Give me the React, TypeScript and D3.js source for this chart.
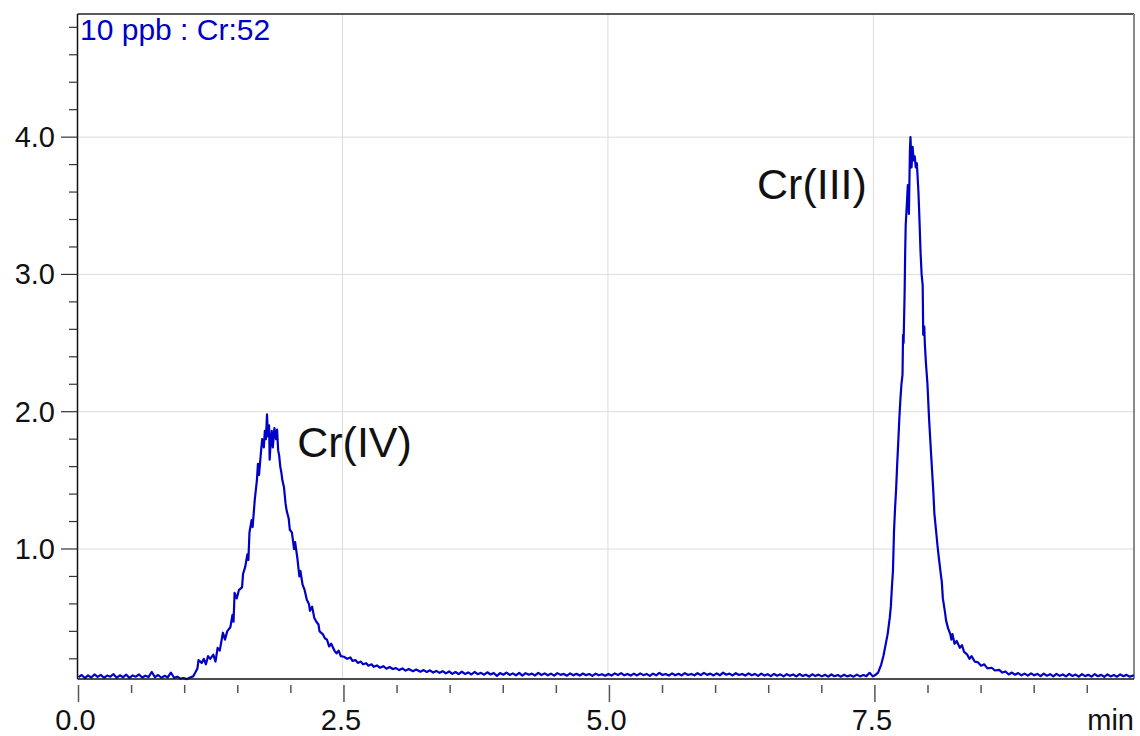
import React, { useEffect, useRef } from "react";
import * as d3 from "d3";

// chromatogram trace, [time (min), intensity]
const baselineStart: [number, number][] = [
  [0.0, 0.066], [0.03, 0.082], [0.06, 0.06], [0.09, 0.079], [0.12, 0.064], [0.15, 0.086],
  [0.18, 0.068], [0.21, 0.083], [0.24, 0.062], [0.27, 0.078], [0.3, 0.07], [0.33, 0.088],
  [0.36, 0.063], [0.39, 0.08], [0.42, 0.066], [0.45, 0.084], [0.48, 0.061], [0.51, 0.079],
  [0.54, 0.07], [0.57, 0.086], [0.6, 0.064], [0.63, 0.077], [0.66, 0.068], [0.69, 0.104],
  [0.72, 0.066], [0.75, 0.082], [0.78, 0.062], [0.81, 0.076], [0.84, 0.065], [0.87, 0.1],
  [0.9, 0.062], [0.93, 0.07], [0.96, 0.056], [0.99, 0.06], [1.02, 0.052], [1.05, 0.064],
  [1.08, 0.072],
];

const peakFour: [number, number][] = [
  [1.1, 0.1], [1.12, 0.13], [1.13, 0.19], [1.16, 0.17], [1.18, 0.2], [1.2, 0.16],
  [1.22, 0.22], [1.24, 0.2], [1.27, 0.23], [1.29, 0.18], [1.31, 0.28], [1.33, 0.26],
  [1.36, 0.39], [1.38, 0.34], [1.4, 0.4], [1.43, 0.43], [1.45, 0.52], [1.46, 0.47],
  [1.47, 0.68], [1.49, 0.64], [1.51, 0.7], [1.54, 0.72], [1.55, 0.82], [1.57, 0.87],
  [1.59, 0.96], [1.6, 0.92], [1.61, 1.12], [1.63, 1.21], [1.64, 1.16], [1.66, 1.36],
  [1.68, 1.5], [1.69, 1.62], [1.7, 1.54], [1.72, 1.72], [1.73, 1.8], [1.745, 1.74],
  [1.755, 1.86], [1.765, 1.8], [1.775, 1.98], [1.785, 1.82], [1.795, 1.9], [1.8, 1.65],
  [1.81, 1.78], [1.82, 1.86], [1.83, 1.74], [1.845, 1.88], [1.86, 1.8], [1.87, 1.87],
  [1.88, 1.72], [1.89, 1.68], [1.9, 1.6], [1.91, 1.56], [1.92, 1.5], [1.935, 1.45],
  [1.95, 1.33], [1.96, 1.28], [1.98, 1.22], [1.99, 1.14], [2.01, 1.12], [2.03, 1.0],
  [2.04, 1.05], [2.06, 0.94], [2.08, 0.8], [2.09, 0.84], [2.11, 0.74], [2.13, 0.7],
  [2.15, 0.63], [2.17, 0.6], [2.18, 0.55], [2.2, 0.58], [2.22, 0.5], [2.24, 0.47],
  [2.26, 0.45], [2.27, 0.4], [2.3, 0.38], [2.32, 0.35], [2.34, 0.34], [2.36, 0.29],
  [2.38, 0.31], [2.41, 0.26], [2.43, 0.24], [2.45, 0.26], [2.47, 0.22], [2.5, 0.215],
  [2.53, 0.2], [2.56, 0.21], [2.58, 0.185], [2.61, 0.19], [2.63, 0.17], [2.66, 0.18],
  [2.68, 0.16], [2.71, 0.168], [2.73, 0.15], [2.76, 0.16], [2.78, 0.142], [2.81, 0.152],
  [2.84, 0.135], [2.87, 0.146], [2.9, 0.128], [2.93, 0.14], [2.96, 0.126], [2.99, 0.132],
  [3.02, 0.118], [3.05, 0.13], [3.08, 0.114], [3.11, 0.126], [3.15, 0.11], [3.18, 0.122],
  [3.22, 0.106], [3.25, 0.118], [3.28, 0.104], [3.31, 0.116], [3.34, 0.1], [3.37, 0.112],
  [3.4, 0.098],
];

const baselineMiddle: [number, number][] = [
  [3.43, 0.11], [3.46, 0.094], [3.49, 0.108], [3.52, 0.09], [3.55, 0.104], [3.58, 0.088],
  [3.61, 0.106], [3.64, 0.09], [3.67, 0.101], [3.7, 0.086], [3.73, 0.104], [3.76, 0.088],
  [3.79, 0.098], [3.82, 0.084], [3.85, 0.102], [3.88, 0.086], [3.91, 0.097], [3.94, 0.076],
  [3.97, 0.096], [4.0, 0.084], [4.03, 0.1], [4.06, 0.083], [4.09, 0.094], [4.12, 0.08],
  [4.15, 0.097], [4.18, 0.078], [4.21, 0.095], [4.24, 0.084], [4.27, 0.092], [4.3, 0.079],
  [4.33, 0.098], [4.36, 0.082], [4.39, 0.094], [4.42, 0.08], [4.45, 0.092], [4.48, 0.078],
  [4.51, 0.096], [4.54, 0.083], [4.57, 0.09], [4.6, 0.077], [4.63, 0.094], [4.66, 0.08],
  [4.69, 0.091], [4.72, 0.078], [4.75, 0.093], [4.78, 0.081], [4.81, 0.089], [4.84, 0.076],
  [4.87, 0.092], [4.9, 0.08], [4.93, 0.088], [4.96, 0.077], [4.99, 0.09], [5.02, 0.078],
  [5.05, 0.094], [5.08, 0.082], [5.11, 0.096], [5.14, 0.08], [5.17, 0.09], [5.2, 0.078],
  [5.23, 0.092], [5.26, 0.079], [5.29, 0.094], [5.32, 0.081], [5.35, 0.09], [5.38, 0.076],
  [5.41, 0.092], [5.44, 0.08], [5.47, 0.098], [5.5, 0.082], [5.53, 0.09], [5.56, 0.078],
  [5.59, 0.094], [5.62, 0.08], [5.65, 0.091], [5.68, 0.079], [5.71, 0.096], [5.74, 0.082],
  [5.77, 0.09], [5.8, 0.08], [5.83, 0.095], [5.86, 0.081], [5.89, 0.098], [5.92, 0.083],
  [5.95, 0.092], [5.98, 0.079], [6.01, 0.094], [6.04, 0.08], [6.07, 0.1], [6.1, 0.084],
  [6.13, 0.092], [6.16, 0.079], [6.19, 0.095], [6.22, 0.082], [6.25, 0.09], [6.28, 0.078],
  [6.31, 0.094], [6.34, 0.08], [6.37, 0.09], [6.4, 0.076], [6.43, 0.092], [6.46, 0.078],
  [6.49, 0.088], [6.52, 0.074], [6.55, 0.09], [6.58, 0.077], [6.61, 0.087], [6.64, 0.072],
  [6.67, 0.088], [6.7, 0.076], [6.73, 0.086], [6.76, 0.072], [6.79, 0.089], [6.82, 0.075],
  [6.85, 0.084], [6.88, 0.071], [6.91, 0.087], [6.94, 0.074], [6.97, 0.085], [7.0, 0.072],
  [7.03, 0.084], [7.06, 0.07], [7.09, 0.086], [7.12, 0.073], [7.15, 0.082], [7.18, 0.07],
  [7.21, 0.084], [7.24, 0.072], [7.27, 0.081], [7.3, 0.07], [7.33, 0.085], [7.36, 0.072],
  [7.39, 0.082], [7.42, 0.074], [7.45, 0.098], [7.48, 0.072],
];

const peakThree: [number, number][] = [
  [7.5, 0.08], [7.53, 0.1], [7.55, 0.14], [7.56, 0.16], [7.58, 0.22], [7.6, 0.3],
  [7.62, 0.38], [7.64, 0.5], [7.65, 0.58], [7.66, 0.72], [7.67, 0.84], [7.68, 1.13],
  [7.69, 1.3], [7.7, 1.44], [7.71, 1.62], [7.72, 1.78], [7.73, 1.95], [7.74, 2.09],
  [7.75, 2.2], [7.76, 2.27], [7.765, 2.56], [7.77, 2.5], [7.78, 2.87], [7.785, 3.16],
  [7.79, 3.36], [7.8, 3.5], [7.81, 3.65], [7.82, 3.44], [7.83, 3.91], [7.835, 4.0],
  [7.845, 3.78], [7.855, 3.93], [7.865, 3.83], [7.875, 3.86], [7.885, 3.78], [7.895, 3.81],
  [7.91, 3.6], [7.92, 3.39], [7.93, 3.16], [7.94, 3.0], [7.95, 2.92], [7.955, 2.56],
  [7.965, 2.62], [7.97, 2.5], [7.98, 2.36], [7.995, 2.2], [8.01, 1.95], [8.03, 1.68],
  [8.05, 1.42], [8.06, 1.26], [8.08, 1.1], [8.09, 1.02], [8.1, 0.95], [8.12, 0.82],
  [8.13, 0.76], [8.14, 0.64], [8.16, 0.54], [8.17, 0.48], [8.19, 0.42], [8.21, 0.38],
  [8.22, 0.34], [8.23, 0.38], [8.25, 0.31], [8.27, 0.33], [8.3, 0.28], [8.32, 0.3],
  [8.34, 0.25], [8.37, 0.23], [8.39, 0.2], [8.41, 0.22], [8.44, 0.18], [8.47, 0.175],
  [8.5, 0.15], [8.53, 0.16], [8.56, 0.13], [8.6, 0.135], [8.63, 0.115], [8.67, 0.12],
  [8.7, 0.1], [8.73, 0.108],
];

const baselineEnd: [number, number][] = [
  [8.76, 0.086], [8.79, 0.1], [8.82, 0.084], [8.85, 0.096], [8.88, 0.08], [8.91, 0.092],
  [8.94, 0.078], [8.97, 0.094], [9.0, 0.08], [9.03, 0.09], [9.06, 0.074], [9.09, 0.092],
  [9.12, 0.077], [9.15, 0.088], [9.18, 0.072], [9.21, 0.09], [9.24, 0.076], [9.27, 0.086],
  [9.3, 0.072], [9.33, 0.09], [9.36, 0.075], [9.39, 0.085], [9.42, 0.07], [9.45, 0.088],
  [9.48, 0.074], [9.51, 0.084], [9.54, 0.07], [9.57, 0.088], [9.6, 0.073], [9.63, 0.083],
  [9.66, 0.069], [9.69, 0.086], [9.72, 0.072], [9.75, 0.082], [9.78, 0.07], [9.81, 0.087],
  [9.84, 0.073], [9.87, 0.083], [9.9, 0.07], [9.94, 0.08],
];

const yTickLabels = ["1.0", "2.0", "3.0", "4.0"];
const xTickLabels = ["0.0", "2.5", "5.0", "7.5"];
const peakLabels = [
  { text: "Cr(IV)", t: 2.06, v: 1.67 },
  { text: "Cr(III)", t: 6.39, v: 3.55 },
];

const W = 1140;
const H = 736;
const blue = "#0000c8";
const font = "'Liberation Sans', Arial, sans-serif";

const App = () => {
  const svgRef = useRef<SVGSVGElement>(null);

  useEffect(() => {
    const svg = d3.select(svgRef.current);
    svg.selectAll("*").remove();

    const plot = { left: 77.5, right: 1134, top: 14, bottom: 679 };

    const x = d3.scaleLinear().domain([0, 9.94]).range([78.5, plot.right]);
    const y = d3.scaleLinear().domain([0.053, 4.897]).range([plot.bottom, plot.top]);

    // grid lines
    svg
      .append("g")
      .selectAll("line")
      .data(yTickLabels.map(Number))
      .join("line")
      .attr("x1", plot.left)
      .attr("x2", plot.right)
      .attr("y1", (d) => y(d))
      .attr("y2", (d) => y(d))
      .attr("stroke", "#dcdcdc")
      .attr("stroke-width", 1);
    svg
      .append("g")
      .selectAll("line")
      .data(xTickLabels.map(Number).filter((d) => d > 0))
      .join("line")
      .attr("x1", (d) => x(d) - 1.5)
      .attr("x2", (d) => x(d) - 1.5)
      .attr("y1", plot.top)
      .attr("y2", plot.bottom)
      .attr("stroke", "#dcdcdc")
      .attr("stroke-width", 1);

    // frame
    svg
      .append("line")
      .attr("x1", plot.left)
      .attr("x2", plot.right)
      .attr("y1", plot.top)
      .attr("y2", plot.top)
      .attr("stroke", "#222")
      .attr("stroke-width", 1.5);
    svg
      .append("line")
      .attr("x1", plot.right)
      .attr("x2", plot.right)
      .attr("y1", plot.top)
      .attr("y2", plot.bottom)
      .attr("stroke", "#8a8a8a")
      .attr("stroke-width", 2);

    // trace
    const trace = [
      ...baselineStart,
      ...peakFour,
      ...baselineMiddle,
      ...peakThree,
      ...baselineEnd,
    ];
    const line = d3
      .line<[number, number]>()
      .x((d) => x(d[0]))
      .y((d) => y(d[1]));
    svg
      .append("path")
      .datum(trace)
      .attr("d", line)
      .attr("fill", "none")
      .attr("stroke", blue)
      .attr("stroke-width", 2.2)
      .attr("stroke-linejoin", "round");

    // axes lines
    svg
      .append("line")
      .attr("x1", plot.left)
      .attr("x2", plot.left)
      .attr("y1", plot.top)
      .attr("y2", plot.bottom)
      .attr("stroke", "#111")
      .attr("stroke-width", 1.5);
    svg
      .append("line")
      .attr("x1", plot.left)
      .attr("x2", plot.right)
      .attr("y1", plot.bottom)
      .attr("y2", plot.bottom)
      .attr("stroke", "#111")
      .attr("stroke-width", 1.5);

    // y ticks: minor every 0.2, major every 1.0
    const yTicks = d3.range(1, 25).map((i) => i * 0.2);
    svg
      .append("g")
      .selectAll("line")
      .data(yTicks)
      .join("line")
      .attr("x1", (d, i) => ((i + 1) % 5 === 0 ? 61 : 69))
      .attr("x2", plot.left)
      .attr("y1", (d) => y(d))
      .attr("y2", (d) => y(d))
      .attr("stroke", "#333")
      .attr("stroke-width", 1.2);
    svg
      .append("g")
      .selectAll("text")
      .data(yTickLabels)
      .join("text")
      .attr("x", 55)
      .attr("y", (d) => y(Number(d)) + 10)
      .attr("text-anchor", "end")
      .attr("font-family", font)
      .attr("font-size", 29)
      .attr("fill", "#111")
      .text((d) => d);

    // x ticks: minor every 0.5, major every 2.5
    const xTicks = d3.range(0, 20).map((i) => i * 0.5);
    svg
      .append("g")
      .selectAll("line")
      .data(xTicks)
      .join("line")
      .attr("x1", (d) => x(d))
      .attr("x2", (d) => x(d))
      .attr("y1", 685)
      .attr("y2", (d, i) => (i % 5 === 0 ? 702 : 693))
      .attr("stroke", "#555")
      .attr("stroke-width", 1.5);
    svg
      .append("g")
      .selectAll("text")
      .data(xTickLabels)
      .join("text")
      .attr("x", (d) => x(Number(d)) - 3)
      .attr("y", 730)
      .attr("text-anchor", "middle")
      .attr("font-family", font)
      .attr("font-size", 29)
      .attr("fill", "#111")
      .text((d) => d);
    svg
      .append("text")
      .attr("x", plot.right)
      .attr("y", 730)
      .attr("text-anchor", "end")
      .attr("font-family", font)
      .attr("font-size", 29)
      .attr("fill", "#111")
      .text("min");

    // title inside plot
    svg
      .append("text")
      .attr("x", 80)
      .attr("y", 40)
      .attr("font-family", font)
      .attr("font-size", 30)
      .attr("fill", blue)
      .text("10 ppb : Cr:52");

    // peak labels
    svg
      .append("g")
      .selectAll("text")
      .data(peakLabels)
      .join("text")
      .attr("x", (d) => x(d.t))
      .attr("y", (d) => y(d.v))
      .attr("font-family", font)
      .attr("font-size", 43)
      .attr("fill", "#111")
      .text((d) => d.text);
  }, []);

  return (
    <svg
      ref={svgRef}
      width={W}
      height={H}
      style={{ position: "absolute", left: 0, top: 0, background: "#fff" }}
    ></svg>
  );
};

export default App;
